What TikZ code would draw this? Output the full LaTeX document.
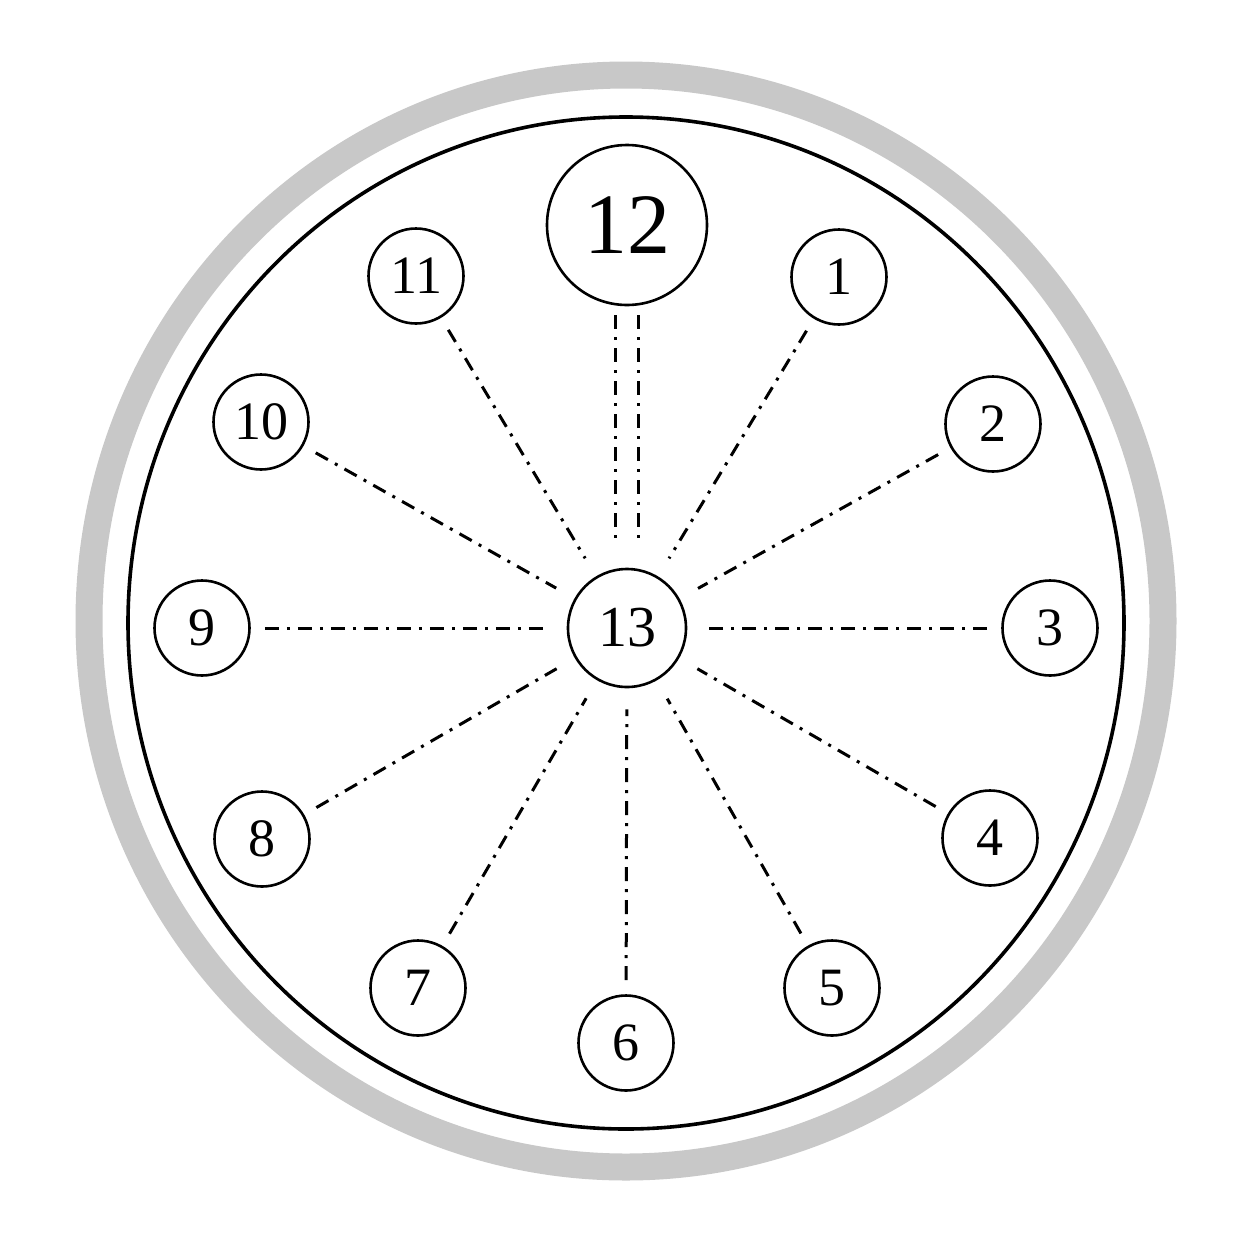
\documentclass[tikz,border=0pt]{standalone}
\usepackage{fontspec}
\setmainfont{Liberation Serif}
\definecolor{ringgray}{RGB}{200,200,200}
\begin{document}
\begin{tikzpicture}[x=1pt,y=-1pt,
  num/.style={circle,draw,line width=2.6pt,minimum size=95pt,inner sep=0pt,font=\fontsize{54}{60}\selectfont},
  hub/.style={num,minimum size=118pt,font=\fontsize{58}{64}\selectfont},
  top/.style={num,minimum size=160pt,font=\fontsize{86}{90}\selectfont},
  spoke/.style={line width=3pt,dash pattern=on 14pt off 8pt on 3pt off 8pt},
]
\useasboundingbox (0,0) rectangle (1254,1254);
\fill[white] (0,0) rectangle (1254,1254);
\draw[ringgray,line width=27pt] (626,621) ellipse [x radius=537,y radius=546];
\draw[line width=3.6pt] (626,623) ellipse [x radius=498,y radius=506];

\node[hub] (n13) at (627,628) {13};
\node[top] (n12) at (627,225) {12};
\node[num] (n1) at (839,277) {1};
\node[num] (n2) at (993,424) {2};
\node[num] (n3) at (1050,628) {3};
\node[num] (n4) at (990,838) {4};
\node[num] (n5) at (832,988) {5};
\node[num] (n6) at (626,1043) {6};
\node[num] (n7) at (418,988) {7};
\node[num] (n8) at (262,839) {8};
\node[num] (n9) at (202,628) {9};
\node[num] (n10) at (261,422) {10};
\node[num] (n11) at (416,276) {11};

\foreach \i in {1,...,11}
  \draw[spoke,shorten <=14pt,shorten >=21pt] (n\i) -- (n13);
\draw[spoke,shorten <=9pt,shorten >=22pt] ([xshift=-11.5pt]n12.south) -- ([xshift=-11.5pt]n13.north);
\draw[spoke,shorten <=9pt,shorten >=22pt] ([xshift=11.5pt]n12.south) -- ([xshift=11.5pt]n13.north);
\end{tikzpicture}
\end{document}
